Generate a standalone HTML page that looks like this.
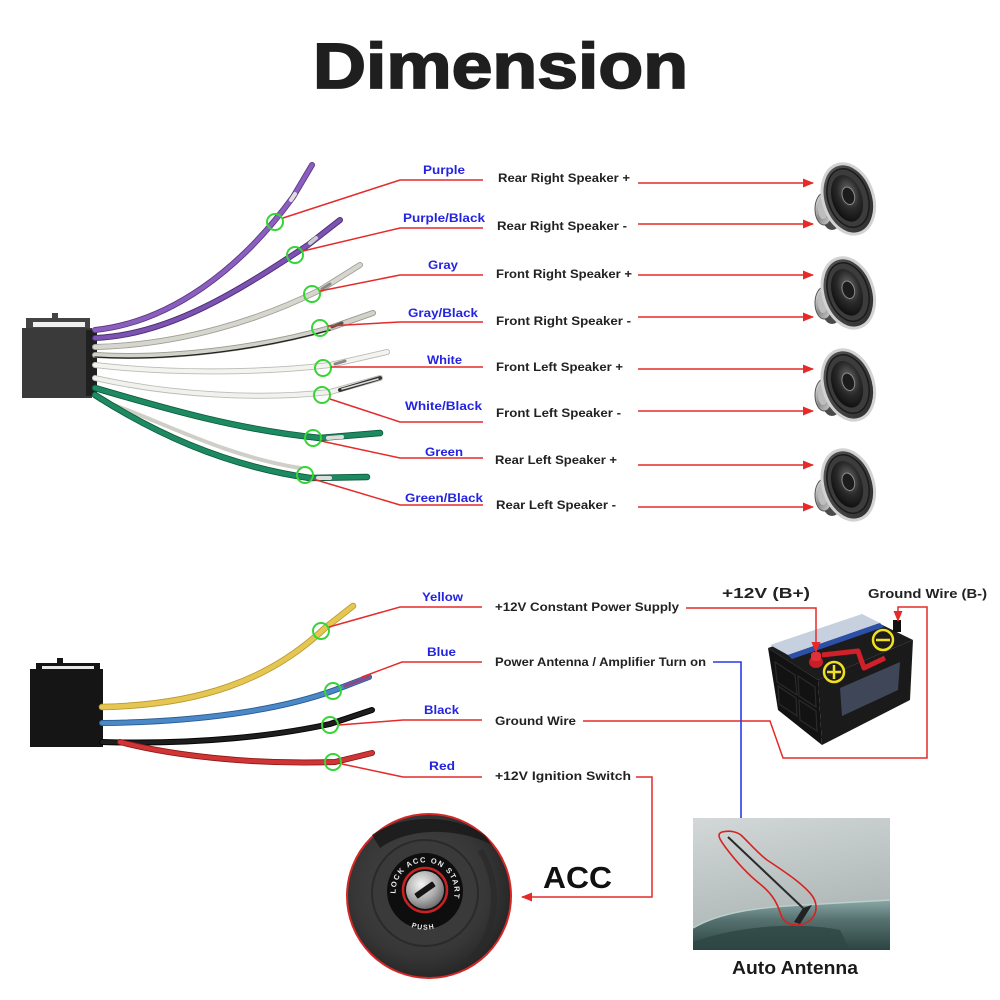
<!DOCTYPE html>
<html><head><meta charset="utf-8"><style>
html,body{margin:0;padding:0;background:#fff;}
svg{display:block;}
text{font-family:"Liberation Sans",Arial,sans-serif;font-weight:bold;}
</style></head><body>
<svg width="1000" height="1000" viewBox="0 0 1000 1000" xmlns="http://www.w3.org/2000/svg">
<defs>
<marker id="ar" markerUnits="userSpaceOnUse" markerWidth="11" markerHeight="9" refX="10" refY="4.5" orient="auto"><path d="M0,0 L11,4.5 L0,9 z" fill="#e52a2a"/></marker>
<marker id="ab" markerUnits="userSpaceOnUse" markerWidth="11" markerHeight="9" refX="10" refY="4.5" orient="auto"><path d="M0,0 L11,4.5 L0,9 z" fill="#2a3ae8"/></marker>
<radialGradient id="cone" cx="0.6" cy="0.4" r="0.7"><stop offset="0" stop-color="#707070"/><stop offset="0.5" stop-color="#2a2a2a"/><stop offset="1" stop-color="#0a0a0a"/></radialGradient>
<linearGradient id="silv" x1="0" y1="0" x2="1" y2="1"><stop offset="0" stop-color="#f0f0f0"/><stop offset="0.5" stop-color="#8a8a8a"/><stop offset="1" stop-color="#d8d8d8"/></linearGradient>
<linearGradient id="face" x1="0" y1="0" x2="1" y2="1"><stop offset="0" stop-color="#5a5a5a"/><stop offset="1" stop-color="#2a2a2a"/></linearGradient>
<linearGradient id="sky" x1="0" y1="0" x2="0.3" y2="1"><stop offset="0" stop-color="#d3d8d8"/><stop offset="1" stop-color="#a9b2b2"/></linearGradient>
<linearGradient id="roof" x1="0" y1="0" x2="0" y2="1"><stop offset="0" stop-color="#8aa8a6"/><stop offset="0.4" stop-color="#55716f"/><stop offset="1" stop-color="#2c4442"/></linearGradient>
<radialGradient id="ign" cx="0.45" cy="0.45" r="0.6"><stop offset="0" stop-color="#4a4a4a"/><stop offset="0.7" stop-color="#363636"/><stop offset="1" stop-color="#222"/></radialGradient>
<radialGradient id="key" cx="0.4" cy="0.35" r="0.7"><stop offset="0" stop-color="#f4f4f4"/><stop offset="0.6" stop-color="#aaa"/><stop offset="1" stop-color="#666"/></radialGradient>
<g id="spk">
  <ellipse cx="-16" cy="10" rx="12" ry="22" fill="#4a4a4a"/>
  <ellipse cx="-24" cy="11" rx="9" ry="16" fill="url(#silv)" stroke="#555" stroke-width="1"/>
  <ellipse cx="-25" cy="11" rx="5" ry="10" fill="#bdbdbd"/>
  <ellipse cx="0" cy="1" rx="25" ry="36" transform="rotate(-18)" fill="url(#face)" stroke="#d2d2d2" stroke-width="3"/>
  <ellipse cx="0" cy="0" rx="20" ry="30" transform="rotate(-18)" fill="#3c3c3c" stroke="#1a1a1a" stroke-width="1.5"/>
  <ellipse cx="-1" cy="0" rx="15" ry="24" transform="rotate(-18)" fill="url(#cone)"/>
  <ellipse cx="1" cy="-2" rx="6" ry="9" transform="rotate(-18)" fill="#1c1c1c" stroke="#8a8a8a" stroke-width="1"/>
</g>
</defs>

<!-- Title -->
<text x="313" y="88" font-size="64" textLength="375" lengthAdjust="spacingAndGlyphs" fill="#1f1f1f" stroke="#1f1f1f" stroke-width="1.8">Dimension</text>

<!-- TOP CONNECTOR -->
<rect x="52" y="313" width="6" height="7" fill="#444"/>
<rect x="26" y="318" width="64" height="12" fill="#444"/>
<rect x="33" y="322" width="52" height="5" fill="#f0f0f0"/>
<rect x="22" y="328" width="70" height="70" fill="#3a3a3a"/>
<rect x="86" y="330" width="11" height="66" fill="#202020"/>

<!-- top wires -->
<g fill="none" stroke-linecap="round">
  <path d="M95,330 C170,322 240,270 293,197 L312,165" stroke="#5a3a80" stroke-width="6"/>
  <path d="M95,330 C170,322 240,270 293,197 L312,165" stroke="#8b5fc0" stroke-width="4.2"/>
  <path d="M291,200 L295,194" stroke="#ddd" stroke-width="4"/>
  <path d="M95,338 C170,335 240,290 308,245 L340,220" stroke="#4a2f70" stroke-width="6"/>
  <path d="M95,338 C170,335 240,290 308,245 L340,220" stroke="#7c52b2" stroke-width="4.2"/>
  <path d="M310,243 L316,238" stroke="#ccc" stroke-width="4"/>
  <path d="M95,347 C180,345 260,320 320,290 L360,265" stroke="#a0a098" stroke-width="6"/>
  <path d="M95,347 C180,345 260,320 320,290 L360,265" stroke="#d6d6ce" stroke-width="4.2"/>
  <path d="M322,289 L330,284" stroke="#888" stroke-width="3"/>
  <path d="M95,355 C180,360 270,345 330,328 L373,313" stroke="#9a9a92" stroke-width="6"/>
  <path d="M95,355 C180,360 270,345 330,328 L373,313" stroke="#d2d2ca" stroke-width="4.2"/>
  <path d="M95,357 C180,362 270,347 330,330" stroke="#222" stroke-width="1.3"/>
  <path d="M332,327 L342,323" stroke="#555" stroke-width="3"/>
  <path d="M95,365 C180,375 270,372 330,365 L387,352" stroke="#bcbcb6" stroke-width="6"/>
  <path d="M95,365 C180,375 270,372 330,365 L387,352" stroke="#f3f3ef" stroke-width="4.2"/>
  <path d="M335,364 L345,361" stroke="#888" stroke-width="3"/>
  <path d="M95,378 C170,395 260,400 330,392 L380,378" stroke="#bcbcb6" stroke-width="6"/>
  <path d="M95,378 C170,395 260,400 330,392 L380,378" stroke="#f1f1ed" stroke-width="4.2"/>
  <path d="M340,390 L380,378" stroke="#333" stroke-width="4"/>
  <path d="M342,389 L378,379" stroke="#ddd" stroke-width="1.5"/>
  <path d="M95,388 C170,410 240,430 320,438 L380,433" stroke="#0c5a3c" stroke-width="6.5"/>
  <path d="M95,388 C170,410 240,430 320,438 L380,433" stroke="#1d8a62" stroke-width="4.8"/>
  <path d="M328,438 L342,437" stroke="#ddd" stroke-width="4"/>
  <path d="M100,400 C160,420 220,455 300,468" stroke="#cfcfc8" stroke-width="4"/>
  <path d="M95,395 C150,430 220,465 310,478 L367,477" stroke="#0c5a3c" stroke-width="6.5"/>
  <path d="M95,395 C150,430 220,465 310,478 L367,477" stroke="#1d8a62" stroke-width="4.8"/>
  <path d="M318,478 L330,478" stroke="#ddd" stroke-width="4"/>
</g>

<g fill="none" stroke="#35d535" stroke-width="2">
  <circle cx="275" cy="222" r="8"/>
  <circle cx="295" cy="255" r="8"/>
  <circle cx="312" cy="294" r="8"/>
  <circle cx="320" cy="328" r="8"/>
  <circle cx="323" cy="368" r="8"/>
  <circle cx="322" cy="395" r="8"/>
  <circle cx="313" cy="438" r="8"/>
  <circle cx="305" cy="475" r="8"/>
</g>

<g fill="none" stroke="#e52a2a" stroke-width="1.5">
  <polyline points="283,218 400,180 483,180"/>
  <polyline points="303,251 400,228 483,228"/>
  <polyline points="320,291 400,275 483,275"/>
  <polyline points="328,326 400,322 483,322"/>
  <polyline points="331,367 400,367 483,367"/>
  <polyline points="330,399 400,422 483,422"/>
  <polyline points="321,441 400,458 483,458"/>
  <polyline points="313,479 400,505 483,505"/>
</g>

<g fill="#2424e0" font-size="12">
  <text x="423" y="174" textLength="42" lengthAdjust="spacingAndGlyphs">Purple</text>
  <text x="403" y="222" textLength="82" lengthAdjust="spacingAndGlyphs">Purple/Black</text>
  <text x="428" y="269" textLength="30" lengthAdjust="spacingAndGlyphs">Gray</text>
  <text x="408" y="317" textLength="70" lengthAdjust="spacingAndGlyphs">Gray/Black</text>
  <text x="427" y="364" textLength="35" lengthAdjust="spacingAndGlyphs">White</text>
  <text x="405" y="410" textLength="77" lengthAdjust="spacingAndGlyphs">White/Black</text>
  <text x="425" y="456" textLength="38" lengthAdjust="spacingAndGlyphs">Green</text>
  <text x="405" y="502" textLength="78" lengthAdjust="spacingAndGlyphs">Green/Black</text>
</g>

<g fill="#222" font-size="12">
  <text x="498" y="182" textLength="132" lengthAdjust="spacingAndGlyphs">Rear Right Speaker +</text>
  <text x="497" y="230" textLength="130" lengthAdjust="spacingAndGlyphs">Rear Right Speaker -</text>
  <text x="496" y="278" textLength="136" lengthAdjust="spacingAndGlyphs">Front Right Speaker +</text>
  <text x="496" y="325" textLength="135" lengthAdjust="spacingAndGlyphs">Front Right Speaker -</text>
  <text x="496" y="371" textLength="127" lengthAdjust="spacingAndGlyphs">Front Left Speaker +</text>
  <text x="496" y="417" textLength="125" lengthAdjust="spacingAndGlyphs">Front Left Speaker -</text>
  <text x="495" y="464" textLength="122" lengthAdjust="spacingAndGlyphs">Rear Left Speaker +</text>
  <text x="496" y="509" textLength="120" lengthAdjust="spacingAndGlyphs">Rear Left Speaker -</text>
</g>

<g stroke="#e52a2a" stroke-width="1.6" marker-end="url(#ar)">
  <line x1="638" y1="183" x2="813" y2="183"/>
  <line x1="638" y1="224" x2="813" y2="224"/>
  <line x1="638" y1="275" x2="813" y2="275"/>
  <line x1="638" y1="317" x2="813" y2="317"/>
  <line x1="638" y1="369" x2="813" y2="369"/>
  <line x1="638" y1="411" x2="813" y2="411"/>
  <line x1="638" y1="465" x2="813" y2="465"/>
  <line x1="638" y1="507" x2="813" y2="507"/>
</g>

<use href="#spk" transform="translate(848,198)"/>
<use href="#spk" transform="translate(848,292)"/>
<use href="#spk" transform="translate(848,384)"/>
<use href="#spk" transform="translate(848,484)"/>

<!-- BOTTOM CONNECTOR -->
<rect x="57" y="658" width="6" height="7" fill="#141414"/>
<rect x="36" y="663" width="64" height="8" fill="#141414"/>
<rect x="42" y="666" width="52" height="3" fill="#e8e8e8"/>
<rect x="30" y="669" width="73" height="78" fill="#151515"/>

<g fill="none" stroke-linecap="round">
  <path d="M102,707 C200,705 270,680 325,628 L353,606" stroke="#b89a30" stroke-width="6.5"/>
  <path d="M102,707 C200,705 270,680 325,628 L353,606" stroke="#e6c652" stroke-width="4.8"/>
  <path d="M102,723 C200,722 280,710 335,690 L369,677" stroke="#2a5a90" stroke-width="6"/>
  <path d="M102,723 C200,722 280,710 335,690 L369,677" stroke="#4a88c8" stroke-width="4.3"/>
  <path d="M345,686 L369,677" stroke="#8a4a8a" stroke-width="3.5"/>
  <path d="M102,742 C200,745 280,735 330,724 L372,710" stroke="#050505" stroke-width="6"/>
  <path d="M102,742 C200,745 280,735 330,724 L372,710" stroke="#1e1e1e" stroke-width="4"/>
  <path d="M120,742 C170,755 250,765 335,762 L372,753" stroke="#8a1818" stroke-width="6"/>
  <path d="M120,742 C170,755 250,765 335,762 L372,753" stroke="#d03434" stroke-width="4.3"/>
</g>
<g fill="none" stroke="#35d535" stroke-width="2">
  <circle cx="321" cy="631" r="8"/>
  <circle cx="333" cy="691" r="8"/>
  <circle cx="330" cy="725" r="8"/>
  <circle cx="333" cy="762" r="8"/>
</g>
<g fill="none" stroke="#e52a2a" stroke-width="1.5">
  <polyline points="329,627 400,607 482,607"/>
  <polyline points="362,677 402,662 482,662"/>
  <polyline points="339,725 403,720 482,720"/>
  <polyline points="342,764 403,777 482,777"/>
</g>
<g fill="#2424e0" font-size="12">
  <text x="422" y="601" textLength="41" lengthAdjust="spacingAndGlyphs">Yellow</text>
  <text x="427" y="656" textLength="29" lengthAdjust="spacingAndGlyphs">Blue</text>
  <text x="424" y="714" textLength="35" lengthAdjust="spacingAndGlyphs">Black</text>
  <text x="429" y="770" textLength="26" lengthAdjust="spacingAndGlyphs">Red</text>
</g>
<g fill="#222" font-size="12">
  <text x="495" y="611" textLength="184" lengthAdjust="spacingAndGlyphs">+12V Constant Power Supply</text>
  <text x="495" y="666" textLength="211" lengthAdjust="spacingAndGlyphs">Power Antenna / Amplifier Turn on</text>
  <text x="495" y="725" textLength="81" lengthAdjust="spacingAndGlyphs">Ground Wire</text>
  <text x="495" y="780" textLength="136" lengthAdjust="spacingAndGlyphs">+12V  Ignition Switch</text>
</g>

<!-- BATTERY -->
<polygon points="768,648 818,680 822,745 778,710" fill="#121212"/>
<g fill="none" stroke="#2a2a2a" stroke-width="1.2">
  <polygon points="775,662 795,675 797,695 777,682"/>
  <polygon points="798,676 815,687 816,707 799,696"/>
  <polygon points="778,686 796,698 797,716 779,704"/>
  <polygon points="799,700 816,711 817,731 800,720"/>
</g>
<polygon points="818,680 913,640 910,700 822,745" fill="#1a1a1a"/>
<polygon points="840,688 900,662 898,690 842,716" fill="#3e4658"/>
<polygon points="768,648 862,615 913,640 818,680" fill="#1c1c1c"/>
<polygon points="770,645 862,614 880,623 788,655" fill="#c6d0de"/>
<polygon points="788,655 880,623 884,627 792,659" fill="#2c4fa8"/>
<path d="M822,655 L858,651 L864,668 L885,658" fill="none" stroke="#d0202a" stroke-width="5" stroke-linejoin="round"/>
<ellipse cx="816" cy="662" rx="7" ry="6" fill="#c81e28"/>
<rect x="811" y="652" width="10" height="9" rx="3" fill="#e0303a"/>
<rect x="893" y="620" width="8" height="12" fill="#111"/>
<g fill="none" stroke="#f0e020" stroke-width="2.5">
  <circle cx="834" cy="672" r="10"/>
  <circle cx="883" cy="640" r="10"/>
  <line x1="827" y1="672" x2="841" y2="672"/>
  <line x1="834" y1="665" x2="834" y2="679"/>
  <line x1="876" y1="640" x2="890" y2="640"/>
</g>
<text x="722" y="598" font-size="15" fill="#222" textLength="88" lengthAdjust="spacingAndGlyphs">+12V  (B+)</text>
<text x="868" y="598" font-size="13" fill="#222" textLength="119" lengthAdjust="spacingAndGlyphs">Ground Wire (B-)</text>

<polyline points="686,608 816,608 816,652" fill="none" stroke="#e52a2a" stroke-width="1.5" marker-end="url(#ar)"/>
<polyline points="583,721 770,721 783,758 927,758 927,607 898,607 898,621" fill="none" stroke="#e52a2a" stroke-width="1.5" marker-end="url(#ar)"/>
<polyline points="713,662 741,662 741,833" fill="none" stroke="#2a3ae8" stroke-width="1.6" marker-end="url(#ab)"/>
<polyline points="636,777 652,777 652,897 522,897" fill="none" stroke="#e52a2a" stroke-width="1.5" marker-end="url(#ar)"/>

<text x="543" y="888" font-size="31" fill="#111" textLength="69" lengthAdjust="spacingAndGlyphs">ACC</text>

<!-- IGNITION -->
<circle cx="429" cy="896" r="82" fill="url(#ign)" stroke="#d42828" stroke-width="2"/>
<path d="M372,835 C400,815 450,812 485,835 L492,845 C460,828 410,826 380,848 z" fill="#181818" opacity="0.8"/>
<path d="M480,850 C500,880 500,930 470,960" fill="none" stroke="#2a2a2a" stroke-width="6" opacity="0.7"/>
<circle cx="425" cy="893" r="53" fill="#3a3a3a" stroke="#2a2a2a" stroke-width="2"/>
<circle cx="425" cy="891" r="38" fill="#0e0e0e"/>
<defs>
  <path id="ringTop" d="M395.6,893.6 A29.5,29.5 0 1,1 447.5,911"/>
  <path id="ringBot" d="M405,923.9 A38,38 0 0,0 445,923.9"/>
</defs>
<text font-size="7.5" fill="#eee" letter-spacing="1.3"><textPath href="#ringTop">LOCK  ACC  ON  START</textPath></text>
<text font-size="7" fill="#eee" letter-spacing="1.2"><textPath href="#ringBot" startOffset="7">PUSH</textPath></text>
<circle cx="425" cy="890" r="22" fill="none" stroke="#c82222" stroke-width="2.5"/>
<circle cx="425" cy="890" r="19" fill="url(#key)"/>
<rect x="414" y="887" width="22" height="6" rx="1" fill="#151515" transform="rotate(-35 425 890)"/>

<!-- ANTENNA PHOTO -->
<rect x="693" y="818" width="197" height="132" fill="url(#sky)"/>
<path d="M693,928 C720,912 760,907 803,905 L890,900 L890,950 L693,950 z" fill="url(#roof)"/>
<path d="M693,928 C720,912 760,907 803,905 L890,900" fill="none" stroke="#b9d0cc" stroke-width="1.5"/>
<path d="M693,942 C740,925 800,922 840,930 L850,950 L693,950 z" fill="#2e4644" opacity="0.8"/>
<line x1="728" y1="837" x2="803" y2="908" stroke="#2a2a2a" stroke-width="2"/>
<path d="M803,908 L812,905 L800,924 L794,922 z" fill="#222"/>
<path d="M722,832 C730,830 738,832 742,836 C752,846 760,855 767,860 C785,872 805,885 813,897 C820,908 815,924 797,925 C787,925 782,920 780,912 C776,900 770,892 760,884 C745,872 735,860 726,848 C720,840 716,834 722,832 z" fill="none" stroke="#d82222" stroke-width="1.6"/>
<text x="732" y="974" font-size="18" fill="#1a1a1a" textLength="126" lengthAdjust="spacingAndGlyphs">Auto Antenna</text>
</svg>
</body></html>
